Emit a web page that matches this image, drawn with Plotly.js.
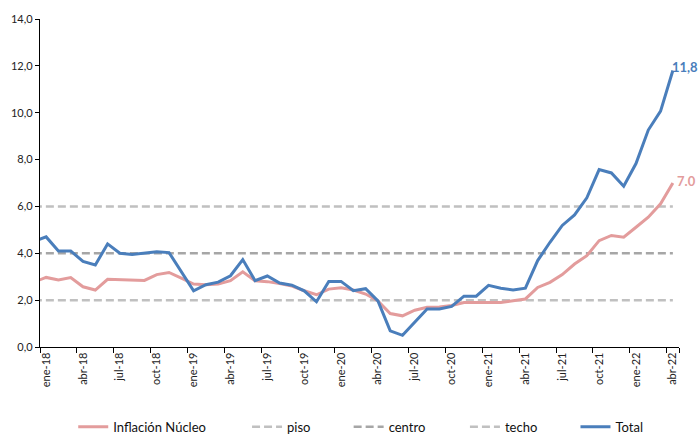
<!DOCTYPE html>
<html>
<head>
<meta charset="utf-8">
<script src="https://cdn.plot.ly/plotly-3.0.1.min.js"></script>
<style>html,body{margin:0;padding:0;background:#fff}#chart{width:698px;height:436px}</style>
</head>
<body>
<div id="chart"></div>
<script>
// Months (first one, dic-17, only shows as the clipped stub at the left axis)
var months = ["dic-17",
  "ene-18","feb-18","mar-18","abr-18","may-18","jun-18","jul-18","ago-18","sep-18","oct-18","nov-18","dic-18",
  "ene-19","feb-19","mar-19","abr-19","may-19","jun-19","jul-19","ago-19","sep-19","oct-19","nov-19","dic-19",
  "ene-20","feb-20","mar-20","abr-20","may-20","jun-20","jul-20","ago-20","sep-20","oct-20","nov-20","dic-20",
  "ene-21","feb-21","mar-21","abr-21","may-21","jun-21","jul-21","ago-21","sep-21","oct-21","nov-21","dic-21",
  "ene-22","feb-22","mar-22","abr-22"];

var total = [4.5,
  4.7,4.1,4.1,3.65,3.5,4.4,4.0,3.95,4.0,4.07,4.03,3.2,
  2.4,2.66,2.77,3.04,3.73,2.83,3.03,2.73,2.64,2.4,1.93,2.8,
  2.8,2.4,2.49,1.97,0.69,0.5,1.07,1.62,1.62,1.73,2.17,2.17,
  2.63,2.51,2.43,2.51,3.69,4.47,5.19,5.64,6.37,7.57,7.43,6.86,
  7.83,9.26,10.07,11.8];

var nucleo = [2.77,
  2.97,2.86,2.96,2.57,2.43,2.89,2.87,2.83,2.84,3.09,3.18,2.94,
  2.69,2.66,2.69,2.83,3.21,2.83,2.79,2.71,2.6,2.4,2.23,2.47,
  2.53,2.43,2.26,1.97,1.43,1.33,1.57,1.7,1.71,1.77,1.9,1.9,
  1.9,1.9,1.97,2.05,2.54,2.76,3.09,3.54,3.9,4.54,4.76,4.69,
  5.11,5.54,6.11,7.0];

var pisoVal = 2, centroVal = 4, techoVal = 6;
var piso = months.map(function(){return pisoVal;});
var centro = months.map(function(){return centroVal;});
var techo = months.map(function(){return techoVal;});

var endLabels = {total: "11,8", nucleo: "7.0"};
var tickMonths = months.filter(function(m, i){ return i >= 1 && (i - 1) % 3 === 0; });

var cBlue = "#4a7ebb", cPink = "#e39c9c", cLight = "#c0c0c0", cDark = "#a6a6a6";
var fontFam = "Lato, 'DejaVu Sans', sans-serif";

var traces = [
  {x: months, y: piso, name: "piso", type: "scatter", mode: "lines",
   line: {color: cLight, width: 2.5, dash: "8px,4px"}, legend: "legend2"},
  {x: months, y: centro, name: "centro", type: "scatter", mode: "lines",
   line: {color: cDark, width: 2.5, dash: "8px,4px"}, legend: "legend3"},
  {x: months, y: techo, name: "techo", type: "scatter", mode: "lines",
   line: {color: cLight, width: 2.5, dash: "8px,4px"}, legend: "legend4"},
  {x: months, y: nucleo, name: "Inflación Núcleo", type: "scatter", mode: "lines",
   line: {color: cPink, width: 3}, legend: "legend"},
  {x: months, y: total, name: "Total", type: "scatter", mode: "lines",
   line: {color: cBlue, width: 3}, legend: "legend5"}
];

function leg(x) {
  return {orientation: "h", x: x, xanchor: "left", y: -0.243, yanchor: "middle",
          font: {family: fontFam, size: 13, color: "#111"}, bgcolor: "rgba(0,0,0,0)",
          itemwidth: 30};
}

var last = months.length - 1;
var layout = {
  width: 698, height: 436,
  margin: {l: 40, r: 19, t: 19, b: 89, autoexpand: false},
  paper_bgcolor: "#fff", plot_bgcolor: "#fff",
  separators: ",.",
  font: {family: fontFam, size: 11, color: "#222"},
  xaxis: {
    type: "category", range: [0.5, last + 0.5], automargin: false,
    tickmode: "array", tickvals: tickMonths, ticktext: tickMonths,
    tickangle: -90, tickson: "boundaries",
    ticks: "outside", ticklen: 5, tickcolor: "#000", tickwidth: 1,
    showline: true, linecolor: "#000", linewidth: 1.2,
    showgrid: false, zeroline: false,
    tickfont: {family: fontFam, size: 11, color: "#222"}
  },
  yaxis: {
    range: [0, 14], dtick: 2, tick0: 0, tickformat: ".1f", automargin: false,
    ticks: "outside", ticklen: 4, tickcolor: "#000", tickwidth: 1,
    showline: true, linecolor: "#000", linewidth: 1.2,
    showgrid: false, zeroline: false,
    tickfont: {family: fontFam, size: 11, color: "#222"}
  },
  legend: leg(0.052),
  legend2: leg(0.324),
  legend3: leg(0.483),
  legend4: leg(0.665),
  legend5: leg(0.838),
  annotations: [
    {x: months[last], y: total[last], text: "<b>" + endLabels.total + "</b>", showarrow: false,
     xanchor: "left", yanchor: "middle", xshift: -3, yshift: 4,
     font: {family: fontFam, size: 13, color: cBlue}},
    {x: months[last], y: nucleo[last], text: "<b>" + endLabels.nucleo + "</b>", showarrow: false,
     xanchor: "left", yanchor: "middle", xshift: 2, yshift: 2,
     font: {family: fontFam, size: 13, color: cPink}}
  ],
  showlegend: true
};

Plotly.newPlot("chart", traces, layout, {displayModeBar: false, staticPlot: true});
</script>
</body>
</html>
